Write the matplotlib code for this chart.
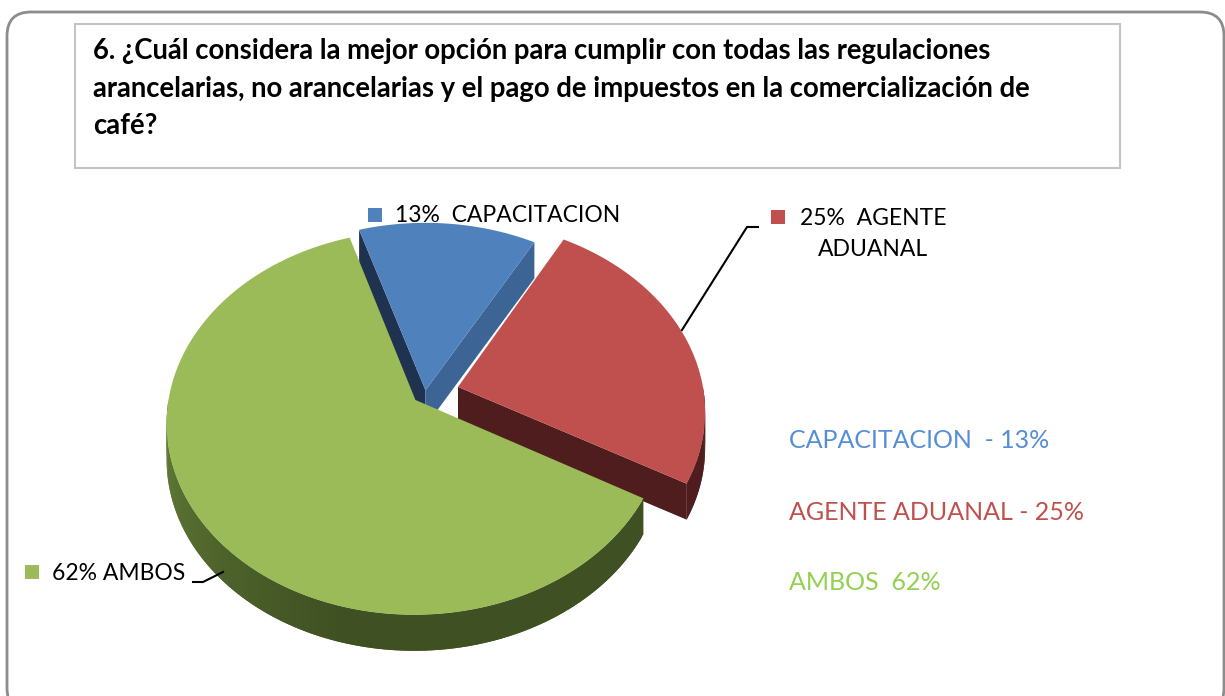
import numpy as np
import matplotlib
matplotlib.use("Agg")
import matplotlib.pyplot as plt
from matplotlib.patches import Polygon, FancyBboxPatch, Rectangle

plt.rcParams['font.family'] = ['Lato', 'DejaVu Sans']

# data
labels = ['CAPACITACION', 'AGENTE ADUANAL', 'AMBOS']
pcts = [13, 25, 62]
explode = [0.02, 0.14, 0.05]
top_colors = ['#4F81BD', '#C0504D', '#9BBB59']
side_colors = ['#3C6596', '#4F1D1E', '#3F5022']
start_wall_colors = ['#1F3350', '#4F1D1E', '#4F6B2A']
text_colors = ['#558ED5', '#C0504D', '#92D050']
title = ("6. ¿Cuál considera la mejor opción para cumplir con todas las regulaciones\n"
         "arancelarias, no arancelarias y el pago de impuestos en la comercialización de\n"
         "café?")

# pie geometry (pixels)
CX, CY = 425, 394
RX, RY = 246, 188
K = 0.118
DEPTH = 36
START = -17.5


def proj(t, r, sl_off, z=0.0):
    t = np.radians(t)
    u = r * np.sin(t) + sl_off[0]
    v = r * np.cos(t) + sl_off[1]
    d = 1 + K * v
    return np.column_stack([CX + RX * u / d, CY - RY * v / d + z])


fig = plt.figure(figsize=(12.25, 6.96), dpi=100)
ax = fig.add_axes([0, 0, 1, 1])
ax.set_xlim(0, 1225)
ax.set_ylim(696, 0)
ax.axis('off')

# outer frame and title box
ax.add_patch(FancyBboxPatch((7, 12), 1217, 700, boxstyle="round,pad=0,rounding_size=24",
                            fc='white', ec='#8c8c8c', lw=2, zorder=0))
ax.add_patch(Rectangle((75, 24), 1045, 144, fc='white', ec='#c4c4c4', lw=1.5, zorder=1))
ax.text(93, 38, title, fontsize=19.8, fontweight='bold', va='top', ha='left',
        linespacing=1.55, color='black', zorder=2)

# slice angles
spans = [p / 100 * 360 for p in pcts]
starts = START + np.concatenate([[0], np.cumsum(spans)[:-1]])
ends = starts + np.array(spans)
mids = (starts + ends) / 2

# painter order: far slices first
order = np.argsort(-np.cos(np.radians(mids)))
for i in order:
    a0, a1 = starts[i], ends[i]
    off = (explode[i] * np.sin(np.radians(mids[i])), explode[i] * np.cos(np.radians(mids[i])))
    c_top = proj(0, 0, off)[0]
    c_bot = c_top + [0, DEPTH]
    # radial walls
    if np.sin(np.radians(a0)) < 0:
        p = proj(a0, 1, off)[0]
        ax.add_patch(Polygon([c_top, p, p + [0, DEPTH], c_bot], closed=True,
                             fc=start_wall_colors[i], ec='none', zorder=3))
    if np.sin(np.radians(a1)) > 0:
        p = proj(a1, 1, off)[0]
        ax.add_patch(Polygon([c_top, p, p + [0, DEPTH], c_bot], closed=True,
                             fc=side_colors[i], ec='none', zorder=3))
    # rim wall (front part only), drawn in overlapping strips for shading
    lo, hi = max(a0, 90), min(a1, 270)
    if hi > lo:
        ts = np.linspace(lo, hi, int(hi - lo) + 2)
        base = np.array(matplotlib.colors.to_rgb(side_colors[i]))
        for t0, t1 in zip(ts[:-1], ts[1:]):
            seg = proj(np.array([t0, min(t1 + 1.0, hi)]), 1, off)
            quad = np.vstack([seg, seg[::-1] + [0, DEPTH]])
            f = np.clip((t0 - 195) / 75, 0, 1) * 0.65 if i == 2 else 0
            col = base + (np.array([0.47, 0.6, 0.27]) - base) * f
            ax.add_patch(Polygon(quad, closed=True, fc=col, ec='none', zorder=3))
    # top face
    ts = np.linspace(a0, a1, 200)
    arc = proj(ts, 1, off)
    ax.add_patch(Polygon(np.vstack([c_top, arc]), closed=True,
                         fc=top_colors[i], ec='none', zorder=3))

# data labels with leader lines
lab_fs = 16.5
ax.add_patch(Rectangle((368, 208), 14, 14, fc=top_colors[0], ec='none', zorder=4))
ax.text(395, 216, f"{pcts[0]}%  {labels[0]}", fontsize=lab_fs, va='center', ha='left', zorder=4)

ax.plot([682, 747, 758], [330, 227, 227], color='black', lw=1.5, zorder=4)
ax.add_patch(Rectangle((771, 210), 14, 14, fc=top_colors[1], ec='none', zorder=4))
ax.text(873, 234, f"{pcts[1]}%  AGENTE\nADUANAL", fontsize=lab_fs, va='center',
        ha='center', linespacing=1.6, zorder=4)

ax.plot([193, 203, 223], [582, 582, 572], color='black', lw=1.5, zorder=4)
ax.add_patch(Rectangle((25, 565), 14, 14, fc=top_colors[2], ec='none', zorder=4))
ax.text(52, 573, f"{pcts[2]}% {labels[2]}", fontsize=lab_fs, va='center', ha='left', zorder=4)

# right-side annotations
side_texts = [f"{labels[0]}  - {pcts[0]}%", f"{labels[1]} - {pcts[1]}%", f"{labels[2]}  {pcts[2]}%"]
for k, (s, y) in enumerate(zip(side_texts, [440, 512, 582])):
    ax.text(789, y, s, fontsize=18, color=text_colors[k], va='center', ha='left', zorder=4)

fig.savefig('out.png', dpi=100)
